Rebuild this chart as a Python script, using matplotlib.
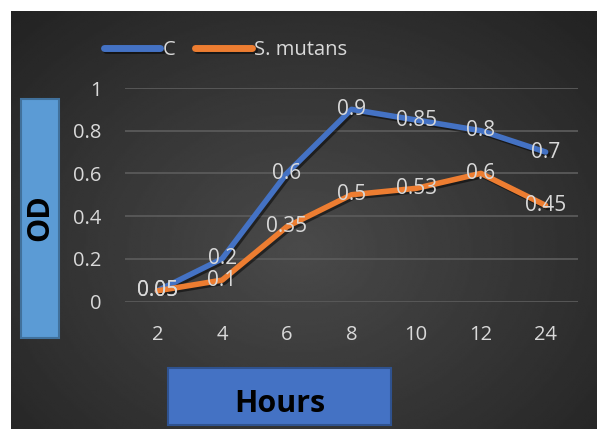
import numpy as np
import matplotlib
matplotlib.use('Agg')
from matplotlib import pyplot as plt
from matplotlib import patheffects as pe
from matplotlib.patches import Rectangle

hours = ['2', '4', '6', '8', '10', '12', '24']
od_c = [0.05, 0.2, 0.6, 0.9, 0.85, 0.8, 0.7]
od_mutans = [0.05, 0.1, 0.35, 0.5, 0.53, 0.6, 0.45]
y_ticks = [0, 0.2, 0.4, 0.6, 0.8, 1]
y_tick_labels = ['0', '0.2', '0.4', '0.6', '0.8', '1']

W, H = 597, 429
txtCol = '#d9d9d9'
plt.rcParams['font.family'] = ['Open Sans', 'DejaVu Sans']

fg = plt.figure(figsize=(W/100., H/100.), dpi=100)
fg.patch.set_facecolor('white')

# dark radial background, in figure pixels
bg = fg.add_axes([0, 0, 1, 1])
bg.set_xlim(0, W)
bg.set_ylim(H, 0)
bg.axis('off')
gx, gy = np.meshgrid(np.linspace(11, W, 300), np.linspace(11, H, 220))
rr = np.sqrt(((gx - 300)/380.)**2 + ((gy - 250)/300.)**2)
shade = np.clip(0.29 - 0.14*rr, 0.14, 0.29)
bg.imshow(shade, extent=(11, W, H, 11), cmap='gray', vmin=0, vmax=1,
          interpolation='bilinear', aspect='auto', zorder=0)

# axis title boxes
bg.add_patch(Rectangle((21, 99), 38, 239, facecolor='#5b9bd5', edgecolor='#41719c', lw=1.5, zorder=2))
bg.text(40, 218, 'OD', rotation=90, ha='center', va='center', fontsize=22,
        fontweight='bold', color='black', zorder=3)
bg.add_patch(Rectangle((168, 368), 223, 57, facecolor='#4472c4', edgecolor='#2f528f', lw=1.5, zorder=2))
bg.text(280, 404, 'Hours', ha='center', va='center', fontsize=22,
        fontweight='bold', color='black', zorder=3)

# plot area
x0, x1, yTop, yBot = 125, 578, 88, 301.5
ax = fg.add_axes([x0/W, (H - yBot)/H, (x1 - x0)/W, (yBot - yTop)/H])
ax.patch.set_alpha(0)
xx = np.arange(len(hours))
ax.set_xlim(-0.5, len(hours) - 0.5)
ax.set_ylim(0, 1)
for s in ax.spines.values():
  s.set_visible(False)
ax.set_yticks(y_ticks)
ax.set_yticklabels(y_tick_labels)
ax.set_xticks(xx)
ax.set_xticklabels(hours)
ax.tick_params(length=0, colors=txtCol, labelsize=14.5)
ax.tick_params(axis='y', pad=17)
ax.tick_params(axis='x', pad=17)
ax.grid(axis='y', color='#5a5a5a', lw=1.3)
ax.set_axisbelow(True)

shadow = [pe.SimpleLineShadow(offset=(1.5, -1.5), shadow_color='black', alpha=0.5), pe.Normal()]
lnC, = ax.plot(xx, od_c, color='#4472c4', lw=4, solid_capstyle='round',
               solid_joinstyle='round', path_effects=shadow, clip_on=False, label='C')
lnM, = ax.plot(xx, od_mutans, color='#ed7d31', lw=4, solid_capstyle='round',
               solid_joinstyle='round', path_effects=shadow, clip_on=False, label='S. mutans')

for xv, yv in zip(xx, od_c):
  ax.text(xv, yv, '%g' % yv, ha='center', va='center', fontsize=15, color=txtCol, zorder=5)
for xv, yv in zip(xx, od_mutans):
  ax.text(xv, yv, '%g' % yv, ha='center', va='center', fontsize=15, color=txtCol, zorder=5)

lg = fg.legend(handles=[lnC, lnM], loc='center left', bbox_to_anchor=(96./W, 1 - 50./H),
               ncol=2, frameon=False, fontsize=14.5, handlelength=2.8, handletextpad=0.1,
               columnspacing=1.0, labelcolor=txtCol, borderaxespad=0)
for lh in lg.get_lines():
  lh.set_linewidth(5)
  lh.set_solid_capstyle('round')

fg.savefig('out.png', dpi=100)
